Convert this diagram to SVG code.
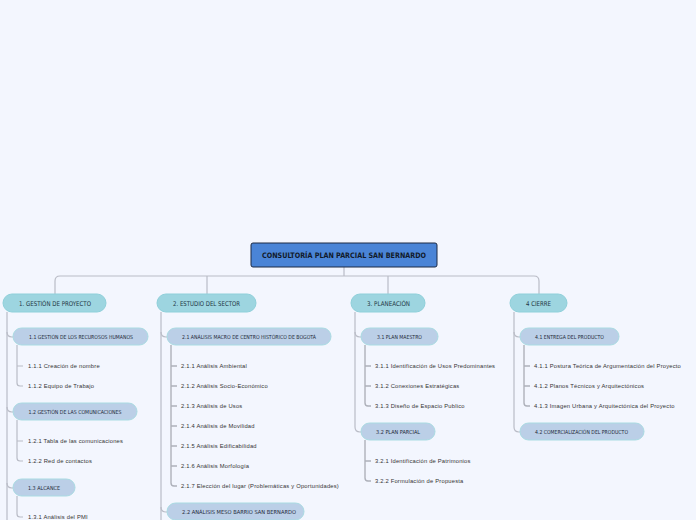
<svg xmlns="http://www.w3.org/2000/svg" width="696" height="520" viewBox="0 0 696 520">
<style>
.bg{fill:#f3f6fe}
.c{fill:none;stroke:#b9bcc6;stroke-width:1.2}
.cs{fill:none;stroke:#aeb1ba;stroke-width:1.4}
.root{fill:#4a84d6;stroke:#1c2a44;stroke-width:1}
.main{fill:#9dd5e0;stroke:#8fd0da;stroke-width:1}
.sub{fill:#bbcfe7;stroke:#a9dbe2;stroke-width:1}
.tr{font-family:"DejaVu Sans Condensed","DejaVu Sans",sans-serif;font-stretch:condensed;font-weight:bold;font-size:7.5px;fill:#111a2a;text-anchor:middle}
.tm{font-family:"DejaVu Sans Condensed","DejaVu Sans",sans-serif;font-stretch:condensed;font-size:6.5px;fill:#1f3545;text-anchor:middle}
.ts{font-family:"DejaVu Sans Condensed","DejaVu Sans",sans-serif;font-stretch:condensed;font-size:5.5px;fill:#1f2a3a;text-anchor:middle}
.tl{font-family:"Liberation Sans",Arial,sans-serif;font-size:5.8px;letter-spacing:0.2px;fill:#333}
</style>
<rect class="bg" x="0" y="0" width="696" height="520"/>
<g id="connectors">
<path class="c" d="M344,267 V276"/>
<path class="c" d="M55,294 V281 Q55,276 60,276 H534 Q539,276 539,281 V294"/>
<path class="c" d="M207,276 V294"/>
<path class="c" d="M388,276 V294"/>
<path class="c" d="M7,312 V520"/>
<path class="c" d="M7,332 Q7,337 12,337 H13"/>
<path class="c" d="M7,407 Q7,412 12,412 H13"/>
<path class="c" d="M7,483 Q7,488 12,488 H13"/>
<path class="c" d="M17,345 V383 Q17,386 20,386 H23 M17,366 H23"/>
<path class="c" d="M17,420 V458 Q17,461 20,461 H23 M17,441 H23"/>
<path class="c" d="M17,496 V514 Q17,517 20,517 H23"/>
<path class="c" d="M161,312 V520"/>
<path class="c" d="M161,332 Q161,337 166,337 H167"/>
<path class="c" d="M161,507 Q161,512 166,512 H167"/>
<path class="cs" d="M171,345 V483 Q171,486 174,486 H177 M171,366 H177 M171,386 H177 M171,406 H177 M171,426 H177 M171,446 H177 M171,466 H177"/>
<path class="c" d="M355,312 V427 Q355,432 360,432 H361"/>
<path class="c" d="M355,332 Q355,337 360,337 H361"/>
<path class="cs" d="M365,345 V403 Q365,406 368,406 H371 M365,366 H371 M365,386 H371"/>
<path class="cs" d="M365,440 V478 Q365,481 368,481 H371 M365,461 H371"/>
<path class="c" d="M514,312 V427 Q514,432 519,432 H520"/>
<path class="c" d="M514,332 Q514,337 519,337 H520"/>
<path class="cs" d="M524,345 V403 Q524,406 527,406 H530 M524,366 H530 M524,386 H530"/>
</g>
<g id="root">
<rect class="root" x="251" y="243" width="186" height="24" rx="2"/>
<text class="tr" x="344" y="258" textLength="164" lengthAdjust="spacingAndGlyphs">CONSULTORÍA PLAN PARCIAL SAN BERNARDO</text>
</g>
<g id="n1">
<rect class="main" x="3" y="294" width="103" height="18" rx="9"/>
<text class="tm" x="55" y="305.5" textLength="72" lengthAdjust="spacingAndGlyphs">1. GESTIÓN DE PROYECTO</text>
</g>
<g id="n11">
<rect class="sub" x="13" y="328" width="135" height="17" rx="8.5"/>
<text class="ts" x="81" y="338.5" textLength="104" lengthAdjust="spacingAndGlyphs">1.1 GESTIÓN DE LOS RECUROSOS HUMANOS</text>
</g>
<g id="l111"><text class="tl" x="28" y="368">1.1.1 Creación de nombre</text></g>
<g id="l112"><text class="tl" x="28" y="388">1.1.2 Equipo de Trabajo</text></g>
<g id="n12">
<rect class="sub" x="13" y="403" width="124" height="17" rx="8.5"/>
<text class="ts" x="75" y="413.5" textLength="93" lengthAdjust="spacingAndGlyphs">1.2 GESTIÓN DE LAS COMUNICACIONES</text>
</g>
<g id="l121"><text class="tl" x="28" y="443">1.2.1 Tabla de las comunicaciones</text></g>
<g id="l122"><text class="tl" x="28" y="463">1.2.2 Red de contactos</text></g>
<g id="n13">
<rect class="sub" x="13" y="479" width="62" height="17" rx="8.5"/>
<text class="ts" x="44" y="489.5" textLength="32" lengthAdjust="spacingAndGlyphs">1.3 ALCANCE</text>
</g>
<g id="l131"><text class="tl" x="28" y="519">1.3.1 Análisis del PMI</text></g>
<g id="n2">
<rect class="main" x="157" y="294" width="99" height="18" rx="9"/>
<text class="tm" x="206.5" y="305.5" textLength="67" lengthAdjust="spacingAndGlyphs">2. ESTUDIO DEL SECTOR</text>
</g>
<g id="n21">
<rect class="sub" x="167" y="328" width="164" height="17" rx="8.5"/>
<text class="ts" x="249" y="338.5" textLength="134" lengthAdjust="spacingAndGlyphs">2.1 ANÁLISIS MACRO DE CENTRO HISTÓRICO DE BOGOTÁ</text>
</g>
<g id="l211"><text class="tl" x="181" y="368">2.1.1 Análisis Ambiental</text></g>
<g id="l212"><text class="tl" x="181" y="388">2.1.2 Análisis Socio-Económico</text></g>
<g id="l213"><text class="tl" x="181" y="408">2.1.3 Análisis de Usos</text></g>
<g id="l214"><text class="tl" x="181" y="428">2.1.4 Análisis de Movilidad</text></g>
<g id="l215"><text class="tl" x="181" y="448">2.1.5 Análisis Edificabilidad</text></g>
<g id="l216"><text class="tl" x="181" y="468">2.1.6 Análisis Morfología</text></g>
<g id="l217"><text class="tl" x="181" y="488" textLength="158" lengthAdjust="spacingAndGlyphs">2.1.7 Elección del lugar (Problemáticas y Oportunidades)</text></g>
<g id="n22">
<rect class="sub" x="167" y="503" width="137" height="17" rx="8.5"/>
<text class="ts" x="239" y="513.5" textLength="114" lengthAdjust="spacingAndGlyphs">2.2 ANÁLISIS MESO BARRIO SAN BERNARDO</text>
</g>
<g id="n3">
<rect class="main" x="351" y="294" width="74" height="18" rx="9"/>
<text class="tm" x="388.5" y="305.5" textLength="43" lengthAdjust="spacingAndGlyphs">3. PLANEACIÓN</text>
</g>
<g id="n31">
<rect class="sub" x="361" y="328" width="77" height="17" rx="8.5"/>
<text class="ts" x="399.5" y="338.5" textLength="45" lengthAdjust="spacingAndGlyphs">3.1 PLAN MAESTRO</text>
</g>
<g id="l311"><text class="tl" x="375" y="368">3.1.1  Identificación de Usos Predominantes</text></g>
<g id="l312"><text class="tl" x="375" y="388">3.1.2 Conexiones Estratégicas</text></g>
<g id="l313"><text class="tl" x="375" y="408">3.1.3 Diseño de Espacio Publico</text></g>
<g id="n32">
<rect class="sub" x="361" y="423" width="74" height="17" rx="8.5"/>
<text class="ts" x="398" y="433.5" textLength="44" lengthAdjust="spacingAndGlyphs">3.2 PLAN PARCIAL</text>
</g>
<g id="l321"><text class="tl" x="375" y="463">3.2.1 Identificación de Patrimonios</text></g>
<g id="l322"><text class="tl" x="375" y="483">3.2.2 Formulación de Propuesta</text></g>
<g id="n4">
<rect class="main" x="510" y="294" width="57" height="18" rx="9"/>
<text class="tm" x="538.5" y="305.5" textLength="25" lengthAdjust="spacingAndGlyphs">4 CIERRE</text>
</g>
<g id="n41">
<rect class="sub" x="520" y="328" width="99" height="17" rx="8.5"/>
<text class="ts" x="569.5" y="338.5" textLength="69" lengthAdjust="spacingAndGlyphs">4.1 ENTREGA DEL PRODUCTO</text>
</g>
<g id="l411"><text class="tl" x="534" y="368">4.1.1 Postura Teórica de Argumentación del Proyecto</text></g>
<g id="l412"><text class="tl" x="534" y="388">4.1.2 Planos Técnicos y Arquitectónicos</text></g>
<g id="l413"><text class="tl" x="534" y="408">4.1.3 Imagen Urbana y Arquitectónica del Proyecto</text></g>
<g id="n42">
<rect class="sub" x="520" y="423" width="124" height="17" rx="8.5"/>
<text class="ts" x="581.5" y="433.5" textLength="93" lengthAdjust="spacingAndGlyphs">4.2 COMERCIALIZACIÓN DEL PRODUCTO</text>
</g>
</svg>
